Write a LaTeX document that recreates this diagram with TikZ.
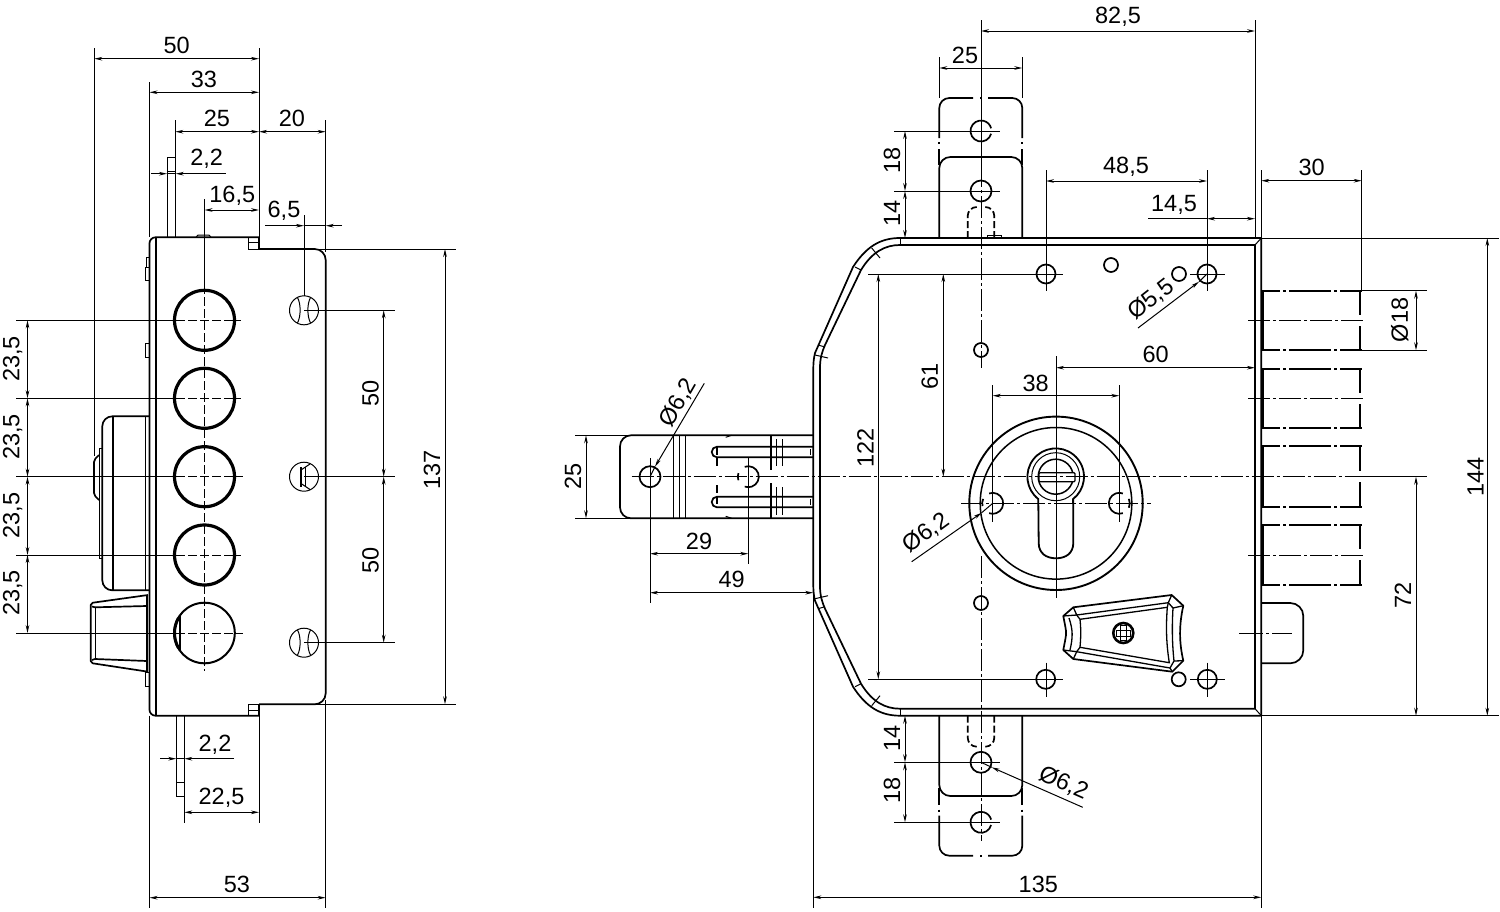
\documentclass[tikz,border=0pt]{standalone}
\usepackage{fontspec}
\setmainfont{Liberation Sans}
\usetikzlibrary{arrows.meta}
\tikzset{
  >={Stealth[length=8pt,width=3.6pt]},
  outline/.style={line width=1.7pt,line join=round},
  thickring/.style={line width=3.2pt},
  thinline/.style={line width=1pt},
  midline/.style={line width=1.3pt},
  dimline/.style={line width=1pt,<->},
  leader/.style={line width=1pt,->},
  axisline/.style={line width=1pt,dash pattern=on 22pt off 3pt on 3pt off 3pt},
  dashline/.style={line width=1pt,dash pattern=on 9pt off 3pt},
  phantomline/.style={line width=1.7pt,dash pattern=on 42pt off 3pt on 3pt off 3pt,dash phase=24pt},
  dimtext/.style={inner sep=0pt,text height=17pt,text depth=0pt,font=\fontsize{23.5}{25}\selectfont},
}
\begin{document}
\begin{tikzpicture}[x=1pt,y=1pt,yscale=-1]
  \useasboundingbox (0,0) rectangle (1500,911);

  % Left view: body
  \draw[outline,rounded corners=11pt] (259,249) -- (325.7,249) -- (325.7,704.3) -- (259,704.3);
  \draw[outline] (259,704.3) -- (259,715.7);
  \draw[outline,rounded corners=6pt] (259,715.7) -- (149.5,715.7) -- (149.5,237.3) -- (259,237.3);
  \draw[outline] (259,237.3) -- (259,249);
  \draw[line width=2pt] (156,237.3) -- (156,715.7); % Inner wall
  \draw[thinline] (248.5,237.3) -- (248.5,249) -- (259,249); % Upper step
  \draw[thinline] (248.5,242.7) -- (259,242.7);
  \draw[thinline] (248.5,715.7) -- (248.5,704.3) -- (259,704.3); % Lower step
  \draw[thinline] (248.5,710) -- (259,710);
  \draw[thinline] (196,237.3) -- (198,235) -- (209,235) -- (211,237.3); % Top pin

  % Left view: plates above and below
  \draw[thinline] (167,237.3) rectangle (175.7,157);
  \draw[thinline] (167,171.5) -- (175.7,171.5);
  \draw[thinline] (176.3,715.7) rectangle (184.3,796);
  \draw[thinline] (176.3,782.7) -- (184.3,782.7);

  % Left view: small tabs
  \draw[thinline] (145,267) rectangle (149.5,280.7);
  \draw[thinline] (146,257) rectangle (149.5,267);
  \draw[thinline] (145,343) rectangle (149.5,357);
  \draw[thinline] (145,672.7) rectangle (149.5,686.7);

  % Left view: bolt circles
  \draw[thickring] (204.5,320.3) circle (30);
  \draw[thickring] (204.5,398.3) circle (30);
  \draw[thickring] (204.5,476.7) circle (30);
  \draw[thickring] (204.5,555) circle (30);
  \draw[line width=2pt] (204.5,633) circle (30.3);
  \draw[line width=1.5pt] (180,615) -- (180,651); % Crescent
  \draw[line width=3pt] (204.5,633) ++(150:30) arc (150:210:30);

  % Left view: center lines
  \draw[thinline] (204.5,199) -- (204.5,285);
  \draw[dashline] (204.5,285) -- (204.5,671);
  \draw[thinline] (16,320.3) -- (176,320.3);
  \draw[dashline] (176,320.3) -- (241,320.3);
  \draw[thinline] (16,398.3) -- (176,398.3);
  \draw[dashline] (176,398.3) -- (241,398.3);
  \draw[thinline] (16,476.7) -- (176,476.7);
  \draw[dashline] (176,476.7) -- (243,476.7);
  \draw[thinline] (16,555) -- (176,555);
  \draw[dashline] (176,555) -- (241,555);
  \draw[thinline] (16,633) -- (176,633);
  \draw[dashline] (176,633) -- (243,633);

  % Left view: cylinder on the outer side
  \draw[outline,rounded corners=10pt] (149.5,416.3) -- (102.3,416.3) -- (102.3,590.3) -- (149.5,590.3);
  \draw[outline] (112.7,416.3) -- (112.7,590.3);
  \draw[thinline] (145,416.3) -- (145,590.3);
  \draw[thinline] (99,558) -- (99,448) -- (102.3,448);
  \draw[thinline] (99,558) -- (102.3,558);
  \draw[outline,rounded corners=2pt] (99,455) -- (94,460) -- (94,495) -- (99,500);

  % Left view: thumb knob
  \draw[outline,rounded corners=2pt] (148,595) -- (90.7,603) -- (90.7,663) -- (148,671.7);
  \draw[thinline] (95,607.3) -- (95,659);
  \draw[outline] (92,606.5) -- (95,607.3) -- (147,606);
  \draw[outline] (92,660) -- (95,659) -- (147,661);
  \draw[outline] (147,595) -- (147,671.7);

  % Left view: screws
  \draw[thinline] (304,310.3) circle (14.5);
  \draw[thinline] (297.5,297.5) .. controls (301,304) and (301,316) .. (297.5,323);
  \draw[thinline] (310.5,297.5) .. controls (307,304) and (307,316) .. (310.5,323);
  \draw[thinline] (304,476.7) circle (14.5);
  \draw[outline] (301,467) -- (301,487);
  \draw[outline] (305.5,467) -- (305.5,487);
  \draw[thinline] (301,470) -- (310,464);
  \draw[thinline] (301,483.5) -- (310,489.5);
  \draw[thinline] (304,642.7) circle (14.5);
  \draw[thinline] (297.5,630) .. controls (301,636) and (301,649) .. (297.5,655);
  \draw[thinline] (310.5,630) .. controls (307,636) and (307,649) .. (310.5,655);

  % Left view: dimensions on top
  \draw[thinline] (94.3,48) -- (94.3,456); % Knob extension
  \draw[thinline] (259,48) -- (259,237.3);
  \draw[thinline] (149.5,82) -- (149.5,237.3);
  \draw[thinline] (175.3,120) -- (175.3,157);
  \draw[thinline] (325.7,120) -- (325.7,252);
  \draw[thinline] (304,215) -- (304,296);
  \draw[dimline] (94.3,58.7) -- (259,58.7);
  \node[dimtext] (leftWidth) at (176.7,45) {50};
  \draw[dimline] (149.5,92.3) -- (259,92.3);
  \node[dimtext] (leftDepth) at (204,79.3) {33};
  \draw[dimline] (175.3,131.7) -- (259,131.7);
  \node[dimtext] (leftPlate) at (217,118.3) {25};
  \draw[dimline] (259,131.7) -- (325.7,131.7);
  \node[dimtext] (leftCover) at (292,118.3) {20};
  \draw[leader] (151,173.7) -- (167,173.7);
  \draw[leader] (225.7,173.7) -- (175.7,173.7);
  \draw[thinline] (167,173.7) -- (175.7,173.7);
  \node[dimtext] (leftThickTop) at (206.7,157.3) {2,2};
  \draw[dimline] (204.5,210) -- (259,210);
  \node[dimtext] (leftAxis) at (232.3,194) {16,5};
  \draw[leader] (265,225.7) -- (304,225.7);
  \draw[leader] (342,225.7) -- (325.7,225.7);
  \draw[thinline] (304,225.7) -- (325.7,225.7);
  \node[dimtext] (leftScrew) at (284,209.3) {6,5};

  % Left view: dimensions on the left
  \draw[dimline] (27.5,320.3) -- (27.5,398.3);
  \draw[dimline] (27.5,398.3) -- (27.5,476.7);
  \draw[dimline] (27.5,476.7) -- (27.5,555);
  \draw[dimline] (27.5,555) -- (27.5,633);
  \node[dimtext,rotate=90] (pitchA) at (11,359) {23,5};
  \node[dimtext,rotate=90] (pitchB) at (11,437) {23,5};
  \node[dimtext,rotate=90] (pitchC) at (11,515.7) {23,5};
  \node[dimtext,rotate=90] (pitchD) at (11,593) {23,5};

  % Left view: dimensions on the right
  \draw[thinline] (304,310.3) -- (395,310.3);
  \draw[thinline] (304,476.7) -- (395,476.7);
  \draw[thinline] (304,642.7) -- (395,642.7);
  \draw[dimline] (383.7,310.3) -- (383.7,476.7);
  \draw[dimline] (383.7,476.7) -- (383.7,642.7);
  \node[dimtext,rotate=90] (screwUp) at (370,393.3) {50};
  \node[dimtext,rotate=90] (screwDown) at (370,560) {50};
  \draw[thinline] (315,249) -- (456,249);
  \draw[thinline] (315,704.3) -- (456,704.3);
  \draw[dimline] (445,249) -- (445,704.3);
  \node[dimtext,rotate=90] (leftHeight) at (431.7,470) {137};

  % Left view: dimensions below
  \draw[leader] (160,758.7) -- (176.3,758.7);
  \draw[leader] (234,758.7) -- (184.3,758.7);
  \draw[thinline] (176.3,758.7) -- (184.3,758.7);
  \node[dimtext] (leftThickLow) at (215,743) {2,2};
  \draw[thinline] (184.3,796) -- (184.3,823);
  \draw[thinline] (259,715.7) -- (259,823);
  \draw[dimline] (184.3,812.3) -- (259,812.3);
  \node[dimtext] (leftLow) at (221.5,796) {22,5};
  \draw[thinline] (149.5,715.7) -- (149.5,908);
  \draw[thinline] (325.7,700) -- (325.7,908);
  \draw[dimline] (149.5,897.7) -- (325.7,897.7);
  \node[dimtext] (leftTotal) at (237,884) {53};

  % Front view: case
  \draw[outline] (1261.3,238) -- (900,238) .. controls (880,238) and (866,247) .. (853,267) -- (815,353) .. controls (813.8,358) and (813.3,362) .. (813.3,370) -- (813.3,583.7) .. controls (813.3,591.7) and (813.8,595.7) .. (815,600.7) -- (853,686.7) .. controls (866,706.7) and (880,715.7) .. (900,715.7) -- (1261.3,715.7) -- cycle;
  \draw[outline] (1255,245) -- (900,245) .. controls (885,245) and (872,252) .. (861,270) -- (825,345) .. controls (822,352) and (820,358) .. (820,368) -- (820,585.7) .. controls (820,595.7) and (822,601.7) .. (825,608.7) -- (861,683.7) .. controls (872,701.7) and (885,708.7) .. (900,708.7) -- (1255,708.7) -- cycle;
  \draw[thinline] (1255,245) -- (1261.3,238);
  \draw[thinline] (1255,708.7) -- (1261.3,715.7);
  \draw[thinline] (900,238) -- (900,245);
  \draw[thinline] (900,708.7) -- (900,715.7);

  % Front view: bend marks
  \draw[thinline] (871.7,248) -- (880,258);
  \draw[thinline] (855,267) -- (861,270);
  \draw[thinline] (818,345) -- (825,347);
  \draw[thinline] (815,355) -- (828,358);
  \draw[thinline] (871.7,705.7) -- (880,695.7);
  \draw[thinline] (855,686.7) -- (861,683.7);
  \draw[thinline] (818,608.7) -- (825,606.7);
  \draw[thinline] (815,598.7) -- (828,595.7);

  % Top bracket
  \draw[outline,rounded corners=11pt] (939.3,238) -- (939.3,157) -- (1022.3,157) -- (1022.3,238);
  \draw[outline,rounded corners=10pt] (939.3,138) -- (939.3,98) -- (973,98);
  \draw[outline,rounded corners=10pt] (988,98) -- (1022.3,98) -- (1022.3,138);
  \draw[outline] (939.3,142) -- (939.3,144);
  \draw[outline] (1022.3,142) -- (1022.3,144);
  \draw[outline] (939.3,149) -- (939.3,165);
  \draw[outline] (1022.3,149) -- (1022.3,165);
  \draw[outline] (980,98) -- (982,98);
  \draw[outline] (981,131) ++(15:10.5) arc (15:345:10.5);
  \draw[outline] (981,191) circle (10.5);
  \draw[outline,dash pattern=on 7pt off 3pt] (967.7,238) -- (967.7,216) arc (180:270:9);
  \draw[outline,dash pattern=on 7pt off 3pt] (994.3,238) -- (994.3,216) arc (0:-90:9);
  \draw[thinline] (987,238) -- (987,235.5) -- (1001,235.5) -- (1001,238);

  % Bottom bracket
  \draw[outline,rounded corners=11pt] (939.3,715.7) -- (939.3,796) -- (1022.3,796) -- (1022.3,715.7);
  \draw[outline,rounded corners=10pt] (939.3,815.7) -- (939.3,855.7) -- (973,855.7);
  \draw[outline,rounded corners=10pt] (988,855.7) -- (1022.3,855.7) -- (1022.3,815.7);
  \draw[outline] (939.3,809.7) -- (939.3,811.7);
  \draw[outline] (1022.3,809.7) -- (1022.3,811.7);
  \draw[outline] (939.3,788) -- (939.3,804.7);
  \draw[outline] (1022.3,788) -- (1022.3,804.7);
  \draw[outline] (980,855.7) -- (982,855.7);
  \draw[outline] (981,822.3) ++(15:10.5) arc (15:345:10.5);
  \draw[outline] (981,762.3) circle (10.5);
  \draw[outline,dash pattern=on 7pt off 3pt] (967.7,715.7) -- (967.7,737.7) arc (180:90:9);
  \draw[outline,dash pattern=on 7pt off 3pt] (994.3,715.7) -- (994.3,737.7) arc (0:90:9);

  % Left bracket
  \draw[outline,rounded corners=11pt] (813.3,435.3) -- (620,435.3) -- (620,518.3) -- (813.3,518.3);
  \draw[midline] (673.3,435.3) -- (673.3,518.3);
  \draw[midline] (679.3,435.3) -- (679.3,518.3);
  \draw[midline] (685.3,435.3) -- (685.3,518.3);
  \draw[midline] (771,435.3) -- (771,470);
  \draw[midline] (771,483) -- (771,518.3);
  \draw[midline] (776.7,439) -- (776.7,466);
  \draw[midline] (782.7,439) -- (782.7,466);
  \draw[midline] (776.7,487) -- (776.7,515);
  \draw[midline] (782.7,487) -- (782.7,515);
  \draw[outline] (813.3,446.7) -- (717,446.7) arc (270:90:5.3) -- (813.3,457.3);
  \draw[outline] (813.3,496.7) -- (717,496.7) arc (270:90:5.3) -- (813.3,507.3);
  \draw[outline,dash pattern=on 8pt off 3pt] (717,446.7) -- (717,468);
  \draw[outline,dash pattern=on 8pt off 3pt] (717,485) -- (717,507.3);
  \draw[thinline] (725.7,437.3) -- (731.7,435.3);
  \draw[thinline] (725.7,516.3) -- (731.7,518.3);
  \draw[outline] (810.5,449) -- (810.5,455);
  \draw[outline] (810.5,499) -- (810.5,505);
  \draw[outline] (650,476.7) circle (10.5);
  \draw[outline] (748.3,476.7) ++(-110:10.5) arc (-110:110:10.5);
  \draw[outline] (748.3,476.7) ++(160:10.5) arc (160:200:10.5);

  % Front view: small holes
  \draw[outline] (981,350) circle (7);
  \draw[outline] (981,603) circle (7);
  \draw[outline] (1111,265) circle (7);
  \draw[outline] (1179,274) circle (7);
  \draw[outline] (1178.7,679.3) circle (7);

  % Front view: fixing holes
  \draw[outline] (1046,274) circle (9.5);
  \draw[outline] (1207,274) circle (9.5);
  \draw[outline] (1045.7,679.3) circle (9.5);
  \draw[outline] (1207.3,679.3) circle (9.5);
  \draw[thinline] (1190,274) -- (1225,274);
  \draw[thinline] (1190,679.3) -- (1225,679.3);
  \draw[thinline] (1046,662.7) -- (1046,697);
  \draw[thinline] (1207.3,662.7) -- (1207.3,697);

  % Front view: escutcheon and cylinder
  \draw[line width=1.9pt] (1056,503.3) circle (86.7);
  \draw[line width=1.5pt] (1056,503.3) circle (75.8);
  \draw[line width=1.8pt] (1055.7,476.7) ++(128:28.3) arc (128:412:28.3) -- (1073.3,543) .. controls (1073.3,553) and (1066,558.3) .. (1056,558.3) .. controls (1046,558.3) and (1038.7,553) .. (1038.7,543) -- cycle;
  \draw[thinline] (1055.7,476.7) circle (24);
  \draw[line width=1.5pt] (1055.7,476.7) circle (17.5);
  \draw[midline,rounded corners=1pt,fill=white] (1039,472.7) rectangle (1075,481.7);
  \draw[outline] (992.7,503.3) ++(-110:10.5) arc (-110:110:10.5);
  \draw[outline] (992.7,503.3) ++(165:10.5) arc (165:205:10.5);
  \draw[outline] (1119.3,503.3) ++(70:10.5) arc (70:290:10.5);
  \draw[outline] (1119.3,503.3) ++(-25:10.5) arc (-25:25:10.5);
  \draw[axisline] (961,503.3) -- (1150.7,503.3);

  % Front view: thumb turn
  \draw[outline] (1073.3,607.3) -- (1171.7,595) -- (1183.3,605.7) .. controls (1179,625) and (1179,642) .. (1183.3,660.7) -- (1172.3,671.7) -- (1073.3,659) -- (1063.3,650) .. controls (1067,630) and (1067,636) .. (1063.3,616) -- cycle;
  \draw[midline] (1080,619.3) -- (1167.3,607.3) .. controls (1166,625) and (1166,642) .. (1169.3,662.7) -- (1080,647.3) .. controls (1081,635) and (1081,630) .. (1080,619.3);
  \draw[midline] (1076.7,615) -- (1168.3,602.7);
  \draw[midline] (1076.7,651.7) -- (1170,668);
  \draw[midline] (1063.3,616) -- (1076.7,615) -- (1080,619.3);
  \draw[midline] (1073.3,607.3) -- (1076.7,615);
  \draw[midline] (1171.7,595) -- (1168.3,602.7) -- (1167.3,607.3);
  \draw[midline] (1183.3,605.7) -- (1173,608) .. controls (1172,625) and (1172,642) .. (1174,661) -- (1183.3,660.7);
  \draw[midline] (1168.3,602.7) -- (1173,608);
  \draw[midline] (1172.3,671.7) -- (1170,668) -- (1174,661);
  \draw[midline] (1063.3,650) -- (1076.7,651.7) -- (1080,647.3);
  \draw[midline] (1073.3,659) -- (1076.7,651.7);
  \draw[midline] (1069,618) .. controls (1073,630) and (1073,637) .. (1070,650);
  \draw[line width=2.6pt] (1123.3,633) circle (10); % Screw
  \draw[thinline] (1120.5,625.5) rectangle (1126,640.5);
  \draw[thinline] (1116,630) rectangle (1130.5,636);

  % Right bolts
  \draw[phantomline] (1262.3,290.7) -- (1361.7,290.7);
  \draw[phantomline] (1262.3,350.3) -- (1361.7,350.3);
  \draw[phantomline] (1262.3,369) -- (1361.7,369);
  \draw[phantomline] (1262.3,428.3) -- (1361.7,428.3);
  \draw[phantomline] (1262.3,446.3) -- (1361.7,446.3);
  \draw[phantomline] (1262.3,507) -- (1361.7,507);
  \draw[phantomline] (1262.3,525) -- (1361.7,525);
  \draw[phantomline] (1262.3,585) -- (1361.7,585);
  \draw[line width=2.2pt] (1263,290.7) -- (1263,350.3);
  \draw[line width=2.2pt] (1263,369) -- (1263,428.3);
  \draw[line width=2.2pt] (1263,446.3) -- (1263,507);
  \draw[line width=2.2pt] (1263,525) -- (1263,585);
  \draw[line width=2.6pt] (1360,291) -- (1360,315);
  \draw[line width=2.6pt] (1360,326) -- (1360,350);
  \draw[line width=2.6pt] (1360,370) -- (1360,393);
  \draw[line width=2.6pt] (1360,404) -- (1360,428);
  \draw[line width=2.6pt] (1360,447) -- (1360,471);
  \draw[line width=2.6pt] (1360,482) -- (1360,507);
  \draw[line width=2.6pt] (1360,526) -- (1360,549);
  \draw[line width=2.6pt] (1360,560) -- (1360,585);
  \draw[axisline] (1248,320.3) -- (1365,320.3);
  \draw[axisline] (1248,398.7) -- (1365,398.7);
  \draw[axisline] (1248,555) -- (1365,555);

  % Right latch
  \draw[outline,rounded corners=13pt] (1261.3,603) -- (1303.3,603) -- (1303.3,663.3) -- (1261.3,663.3);
  \draw[line width=1pt,dash pattern=on 24pt off 3pt on 3pt off 3pt] (1239,633) -- (1291.7,633);

  % Front view: center lines
  \draw[thinline] (981,20) -- (981,165);
  \draw[axisline] (981,165) -- (981,368);
  \draw[axisline] (981,556) -- (981,841);
  \draw[axisline] (631.7,476.7) -- (1363,476.7);
  \draw[thinline] (1056,356) -- (1056,598);
  \draw[thinline] (1363,476.7) -- (1426.7,476.7);

  % Dimensions above the case
  \draw[thinline] (1255,20) -- (1255,238);
  \draw[dimline] (981,31) -- (1255,31);
  \node[dimtext] (frontAxis) at (1118,15) {82,5};
  \draw[thinline] (939.3,57) -- (939.3,98);
  \draw[thinline] (1022.3,57) -- (1022.3,98);
  \draw[dimline] (939.3,68) -- (1022.3,68);
  \node[dimtext] (bracketWidth) at (965,55) {25};
  \draw[thinline] (894,131) -- (1000,131);
  \draw[thinline] (894,191) -- (1000,191);
  \draw[dimline] (905,131) -- (905,191);
  \draw[dimline] (905,191) -- (905,238);
  \node[dimtext,rotate=90] (holeUp) at (891.7,160) {18};
  \node[dimtext,rotate=90] (holeEdge) at (891.7,213) {14};
  \draw[thinline] (1046,170) -- (1046,291);
  \draw[thinline] (1207,170) -- (1207,291);
  \draw[dimline] (1046,181) -- (1207,181);
  \node[dimtext] (holePitch) at (1126,165) {48,5};
  \draw[thinline] (1148,218.7) -- (1207,218.7);
  \draw[dimline] (1207,218.7) -- (1255,218.7);
  \node[dimtext] (holeSide) at (1174,203) {14,5};
  \draw[leader] (1138,328) -- (1199,281.7);
  \draw[thinline] (1199,281.7) -- (1207,274);
  \node[dimtext,rotate=38] (holeDia) at (1150,298) {Ø5,5};

  % Dimensions inside the case
  \draw[thinline] (868,274) -- (1063,274);
  \draw[thinline] (868,679.3) -- (1063,679.3);
  \draw[dimline] (878.3,274) -- (878.3,679.3);
  \node[dimtext,rotate=90] (caseInner) at (865,448) {122};
  \draw[dimline] (943.3,274) -- (943.3,476.7);
  \node[dimtext,rotate=90] (cylinderDrop) at (929.3,376.7) {61};
  \draw[dimline] (1056,367.7) -- (1255,367.7);
  \node[dimtext] (backset) at (1155.7,354) {60};
  \draw[thinline] (992.7,385) -- (992.7,521.7);
  \draw[thinline] (1119.3,385) -- (1119.3,521.7);
  \draw[dimline] (992.7,395.7) -- (1119.3,395.7);
  \node[dimtext] (cylinderHoles) at (1035.7,382.7) {38};
  \draw[leader] (911.7,561.7) -- (981.7,512.7);
  \draw[thinline] (981.7,512.7) -- (992.7,503.3);
  \node[dimtext,rotate=36] (cylinderDia) at (925,531.7) {Ø6,2};

  % Left bracket dimensions
  \draw[thinline] (575,435.3) -- (630,435.3);
  \draw[thinline] (575,518.3) -- (630,518.3);
  \draw[dimline] (586,435.3) -- (586,518.3);
  \node[dimtext,rotate=90] (sideWidth) at (572.7,476.7) {25};
  \draw[thinline] (650,458) -- (650,603);
  \draw[thinline] (748.3,458) -- (748.3,564);
  \draw[dimline] (650,553.7) -- (748.3,553.7);
  \node[dimtext] (sideHoles) at (699,540.7) {29};
  \draw[dimline] (650,592.7) -- (813.3,592.7);
  \node[dimtext] (sideEdge) at (731.7,579.3) {49};
  \draw[leader] (704.3,383.3) -- (655,466.7);
  \draw[thinline] (655,466.7) -- (650,476.7);
  \node[dimtext,rotate=60] (sideDia) at (676.7,401.7) {Ø6,2};

  % Dimensions below the case
  \draw[thinline] (894,762.3) -- (1000,762.3);
  \draw[thinline] (894,822.3) -- (1000,822.3);
  \draw[dimline] (905,715.7) -- (905,762.3);
  \draw[dimline] (905,762.3) -- (905,822.3);
  \node[dimtext,rotate=90] (lowEdge) at (891.7,738) {14};
  \node[dimtext,rotate=90] (lowHole) at (891.7,790) {18};
  \draw[leader] (1082.7,807.3) -- (991.7,767.3);
  \draw[thinline] (991.7,767.3) -- (981,762.3);
  \node[dimtext,rotate=-23.5] (lowDia) at (1064,781.7) {Ø6,2};
  \draw[thinline] (813.3,590) -- (813.3,908);
  \draw[thinline] (1261.3,170) -- (1261.3,908);
  \draw[dimline] (813.3,897.3) -- (1261.3,897.3);
  \node[dimtext] (frontWidth) at (1038.3,884) {135};

  % Dimensions on the right
  \draw[dimline] (1261.3,180.7) -- (1361.7,180.7);
  \node[dimtext] (boltThrow) at (1311.7,167.3) {30};
  \draw[thinline] (1361.7,170) -- (1361.7,290.7);
  \draw[thinline] (1361.7,290.7) -- (1426.7,290.7);
  \draw[thinline] (1361.7,350.3) -- (1426.7,350.3);
  \draw[dimline] (1416,290.7) -- (1416,350.3);
  \node[dimtext,rotate=90] (boltDia) at (1399.3,320) {Ø18};
  \draw[thinline] (1261.3,238) -- (1499,238);
  \draw[thinline] (1261.3,715.7) -- (1499,715.7);
  \draw[dimline] (1487.3,238) -- (1487.3,715.7);
  \node[dimtext,rotate=90] (frontHeight) at (1475,476.7) {144};
  \draw[dimline] (1416,476.7) -- (1416,715.7);
  \node[dimtext,rotate=90] (axisLow) at (1402.7,595.7) {72};
\end{tikzpicture}
\end{document}
